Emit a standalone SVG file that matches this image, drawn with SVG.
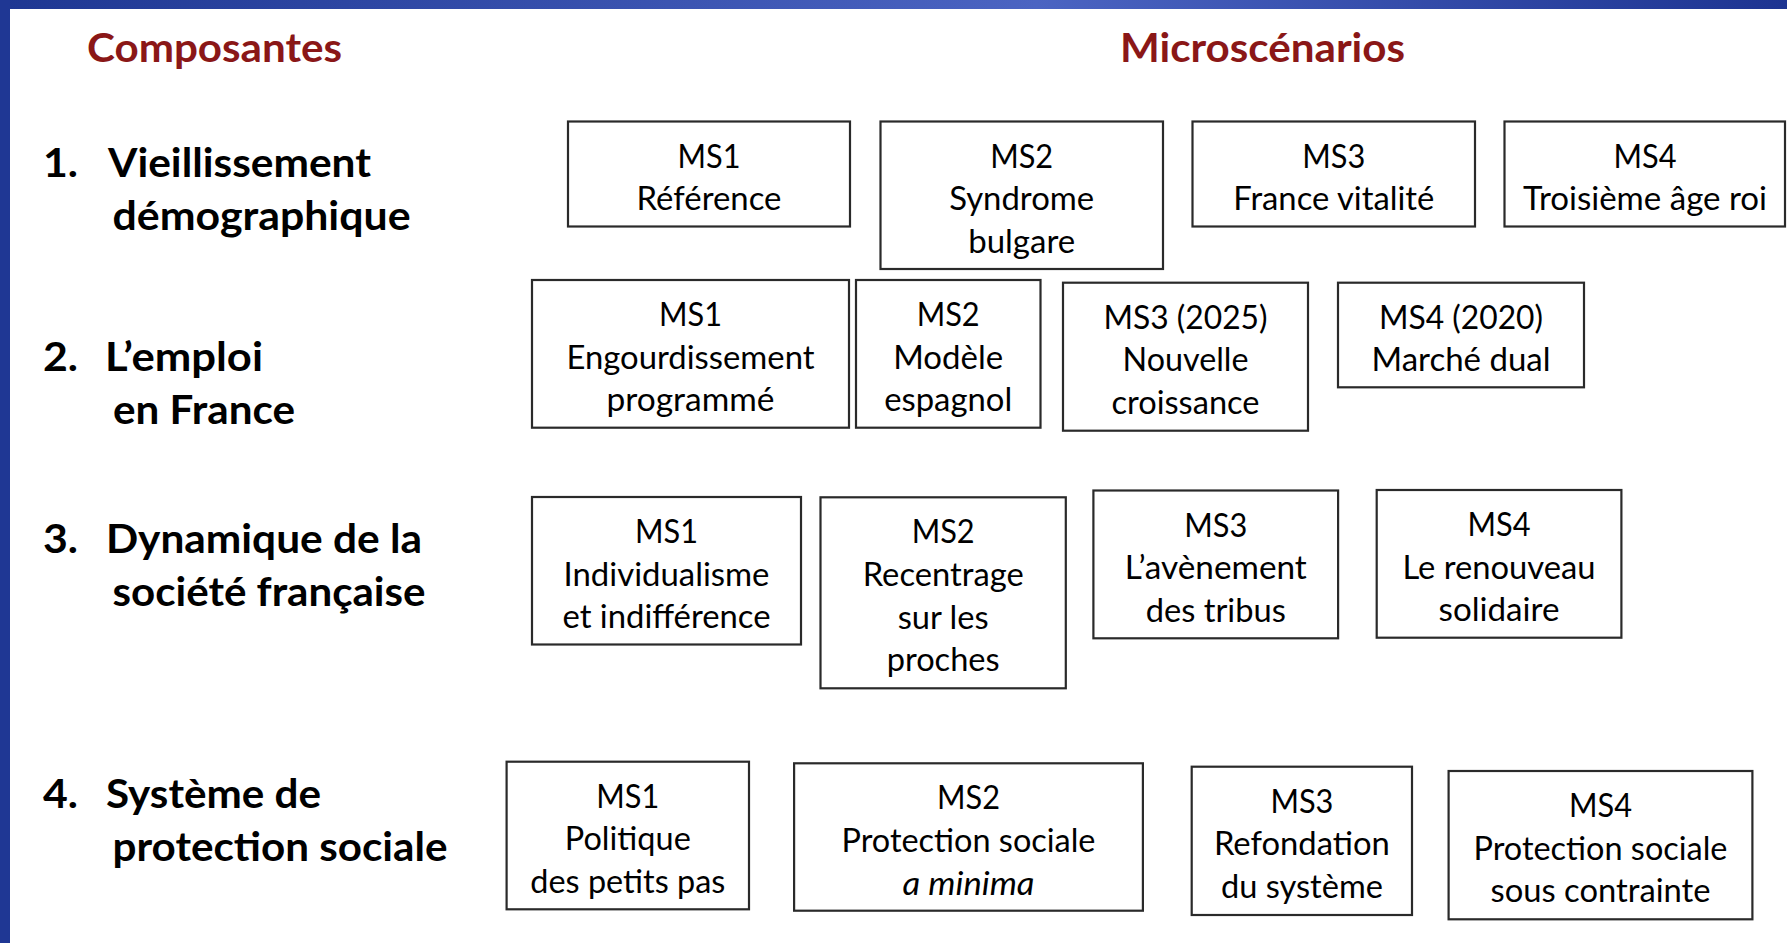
<svg xmlns="http://www.w3.org/2000/svg" width="1787" height="943" viewBox="0 0 1787 943">
<defs>
<linearGradient id="topbar" x1="0" y1="0" x2="1787" y2="0" gradientUnits="userSpaceOnUse">
<stop offset="0" stop-color="#1e3792"/>
<stop offset="0.58" stop-color="#4b64c2"/>
<stop offset="1" stop-color="#1d3491"/>
</linearGradient>
<style>
.box{fill:#ffffff;stroke:#2a2a2a;stroke-width:2.2}
.t{font-family:Lato,"Liberation Sans",sans-serif;font-size:32px;fill:#000;text-anchor:middle}
.it{font-style:italic}
.hd{font-family:Lato,"Liberation Sans",sans-serif;font-size:41px;font-weight:bold;fill:#8a1717}
.lb{font-family:Lato,"Liberation Sans",sans-serif;font-size:41px;font-weight:bold;fill:#000}
</style>
</defs>
<rect x="0" y="0" width="1787" height="943" fill="#ffffff"/>
<rect x="0" y="0" width="1787" height="9" fill="url(#topbar)"/>
<rect x="0" y="0" width="10" height="943" fill="#1f3794"/>

<g id="headers">
<text class="hd" x="87" y="62" textLength="255" lengthAdjust="spacingAndGlyphs">Composantes</text>
<text class="hd" x="1120" y="62" textLength="285" lengthAdjust="spacingAndGlyphs">Microscénarios</text>
</g>

<g id="comp1">
<text class="lb" x="43" y="177" textLength="35" lengthAdjust="spacingAndGlyphs">1.</text>
<text class="lb" x="108" y="177" textLength="263" lengthAdjust="spacingAndGlyphs">Vieillissement</text>
<text class="lb" x="112.5" y="230" textLength="298" lengthAdjust="spacingAndGlyphs">démographique</text>
</g>
<g id="comp2">
<text class="lb" x="43" y="371" textLength="35" lengthAdjust="spacingAndGlyphs">2.</text>
<text class="lb" x="105" y="371" textLength="158" lengthAdjust="spacingAndGlyphs">L’emploi</text>
<text class="lb" x="113" y="424" textLength="182" lengthAdjust="spacingAndGlyphs">en France</text>
</g>
<g id="comp3">
<text class="lb" x="43" y="553" textLength="35" lengthAdjust="spacingAndGlyphs">3.</text>
<text class="lb" x="106" y="553" textLength="316" lengthAdjust="spacingAndGlyphs">Dynamique de la</text>
<text class="lb" x="112.5" y="606" textLength="313" lengthAdjust="spacingAndGlyphs">société française</text>
</g>
<g id="comp4">
<text class="lb" x="43" y="808" textLength="35" lengthAdjust="spacingAndGlyphs">4.</text>
<text class="lb" x="106" y="808" textLength="215" lengthAdjust="spacingAndGlyphs">Système de</text>
<text class="lb" x="112.5" y="861" textLength="335" lengthAdjust="spacingAndGlyphs">protection sociale</text>
</g>

<g id="connectors"></g>

<g id="r1-ms1">
<rect class="box" x="568" y="121.5" width="282" height="105"/>
<text class="t" x="709" y="167.5" textLength="63" lengthAdjust="spacingAndGlyphs">MS1</text>
<text class="t" x="709" y="210.2" textLength="145" lengthAdjust="spacingAndGlyphs">Référence</text>
</g>
<g id="r1-ms2">
<rect class="box" x="880.5" y="121.5" width="282.5" height="147.5"/>
<text class="t" x="1021.7" y="167.5" textLength="63" lengthAdjust="spacingAndGlyphs">MS2</text>
<text class="t" x="1021.7" y="210.2" textLength="145" lengthAdjust="spacingAndGlyphs">Syndrome</text>
<text class="t" x="1021.7" y="252.9" textLength="107" lengthAdjust="spacingAndGlyphs">bulgare</text>
</g>
<g id="r1-ms3">
<rect class="box" x="1192.5" y="121.5" width="282.5" height="105"/>
<text class="t" x="1333.8" y="167.5" textLength="63" lengthAdjust="spacingAndGlyphs">MS3</text>
<text class="t" x="1333.8" y="210.2" textLength="201" lengthAdjust="spacingAndGlyphs">France vitalité</text>
</g>
<g id="r1-ms4">
<rect class="box" x="1504.5" y="121.5" width="280.5" height="105"/>
<text class="t" x="1645" y="167.5" textLength="63" lengthAdjust="spacingAndGlyphs">MS4</text>
<text class="t" x="1645" y="210.2" textLength="244" lengthAdjust="spacingAndGlyphs">Troisième âge roi</text>
</g>

<g id="r2-ms1">
<rect class="box" x="532" y="280" width="317" height="147.7"/>
<text class="t" x="690.5" y="326" textLength="63" lengthAdjust="spacingAndGlyphs">MS1</text>
<text class="t" x="690.5" y="368.7" textLength="248" lengthAdjust="spacingAndGlyphs">Engourdissement</text>
<text class="t" x="690.5" y="411.4" textLength="168" lengthAdjust="spacingAndGlyphs">programmé</text>
</g>
<g id="r2-ms2">
<rect class="box" x="856" y="280" width="184.5" height="147.7"/>
<text class="t" x="948.2" y="326" textLength="63" lengthAdjust="spacingAndGlyphs">MS2</text>
<text class="t" x="948.2" y="368.7" textLength="110" lengthAdjust="spacingAndGlyphs">Modèle</text>
<text class="t" x="948.2" y="411.4" textLength="128" lengthAdjust="spacingAndGlyphs">espagnol</text>
</g>
<g id="r2-ms3">
<rect class="box" x="1063" y="282.7" width="245" height="148"/>
<text class="t" x="1185.5" y="328.7" textLength="164" lengthAdjust="spacingAndGlyphs">MS3 (2025)</text>
<text class="t" x="1185.5" y="371.4" textLength="126" lengthAdjust="spacingAndGlyphs">Nouvelle</text>
<text class="t" x="1185.5" y="414.1" textLength="148" lengthAdjust="spacingAndGlyphs">croissance</text>
</g>
<g id="r2-ms4">
<rect class="box" x="1338" y="282.7" width="246" height="104.6"/>
<text class="t" x="1461" y="328.7" textLength="164" lengthAdjust="spacingAndGlyphs">MS4 (2020)</text>
<text class="t" x="1461" y="371.4" textLength="179" lengthAdjust="spacingAndGlyphs">Marché dual</text>
</g>

<g id="r3-ms1">
<rect class="box" x="532" y="497" width="269" height="147.5"/>
<text class="t" x="666.5" y="543" textLength="63" lengthAdjust="spacingAndGlyphs">MS1</text>
<text class="t" x="666.5" y="585.7" textLength="206" lengthAdjust="spacingAndGlyphs">Individualisme</text>
<text class="t" x="666.5" y="628.4" textLength="208" lengthAdjust="spacingAndGlyphs">et indifférence</text>
</g>
<g id="r3-ms2">
<rect class="box" x="820.5" y="497.3" width="245.3" height="191"/>
<text class="t" x="943.2" y="543.3" textLength="63" lengthAdjust="spacingAndGlyphs">MS2</text>
<text class="t" x="943.2" y="586" textLength="161" lengthAdjust="spacingAndGlyphs">Recentrage</text>
<text class="t" x="943.2" y="628.7" textLength="91" lengthAdjust="spacingAndGlyphs">sur les</text>
<text class="t" x="943.2" y="671.4" textLength="113" lengthAdjust="spacingAndGlyphs">proches</text>
</g>
<g id="r3-ms3">
<rect class="box" x="1093.4" y="490.5" width="244.7" height="147.8"/>
<text class="t" x="1215.8" y="536.5" textLength="63" lengthAdjust="spacingAndGlyphs">MS3</text>
<text class="t" x="1215.8" y="579.2" textLength="182" lengthAdjust="spacingAndGlyphs">L’avènement</text>
<text class="t" x="1215.8" y="621.9" textLength="140" lengthAdjust="spacingAndGlyphs">des tribus</text>
</g>
<g id="r3-ms4">
<rect class="box" x="1376.7" y="490" width="244.7" height="147.7"/>
<text class="t" x="1499" y="536" textLength="63" lengthAdjust="spacingAndGlyphs">MS4</text>
<text class="t" x="1499" y="578.7" textLength="193" lengthAdjust="spacingAndGlyphs">Le renouveau</text>
<text class="t" x="1499" y="621.4" textLength="121" lengthAdjust="spacingAndGlyphs">solidaire</text>
</g>

<g id="r4-ms1">
<rect class="box" x="506.6" y="761.7" width="242.4" height="147.6"/>
<text class="t" x="627.8" y="807.7" textLength="63" lengthAdjust="spacingAndGlyphs">MS1</text>
<text class="t" x="627.8" y="850.4" textLength="126" lengthAdjust="spacingAndGlyphs">Politique</text>
<text class="t" x="627.8" y="893.1" textLength="195" lengthAdjust="spacingAndGlyphs">des petits pas</text>
</g>
<g id="r4-ms2">
<rect class="box" x="794.1" y="763.3" width="348.8" height="147.4"/>
<text class="t" x="968.5" y="809.3" textLength="63" lengthAdjust="spacingAndGlyphs">MS2</text>
<text class="t" x="968.5" y="852" textLength="254" lengthAdjust="spacingAndGlyphs">Protection sociale</text>
<text class="t it" x="968.5" y="894.7" textLength="132" lengthAdjust="spacingAndGlyphs">a minima</text>
</g>
<g id="r4-ms3">
<rect class="box" x="1191.7" y="766.7" width="220.3" height="148.3"/>
<text class="t" x="1301.9" y="812.7" textLength="63" lengthAdjust="spacingAndGlyphs">MS3</text>
<text class="t" x="1301.9" y="855.4" textLength="176" lengthAdjust="spacingAndGlyphs">Refondation</text>
<text class="t" x="1301.9" y="898.1" textLength="162" lengthAdjust="spacingAndGlyphs">du système</text>
</g>
<g id="r4-ms4">
<rect class="box" x="1448.6" y="771" width="303.8" height="148.3"/>
<text class="t" x="1600.5" y="817" textLength="63" lengthAdjust="spacingAndGlyphs">MS4</text>
<text class="t" x="1600.5" y="859.7" textLength="254" lengthAdjust="spacingAndGlyphs">Protection sociale</text>
<text class="t" x="1600.5" y="902.4" textLength="220" lengthAdjust="spacingAndGlyphs">sous contrainte</text>
</g>
</svg>
